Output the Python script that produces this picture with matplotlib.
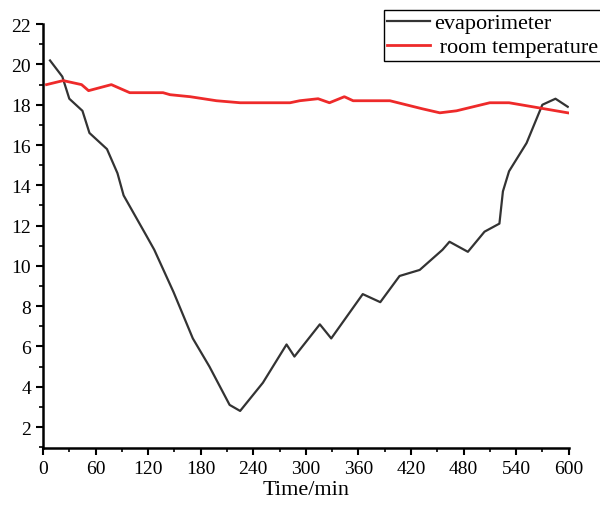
import numpy as np
import matplotlib.pyplot as plt
from matplotlib.ticker import MultipleLocator

plt.rcParams['font.family'] = ['Liberation Serif', 'DejaVu Serif']

# evaporimeter temperature readings
evap_t = [8, 22, 30, 45, 53, 73, 85, 92, 118, 127, 149, 171, 190, 213, 225,
          251, 278, 287, 316, 329, 365, 385, 407, 430, 456, 464, 485, 504,
          521, 525, 532, 552, 570, 585, 599]
evap_v = [20.2, 19.4, 18.3, 17.7, 16.6, 15.8, 14.6, 13.5, 11.5, 10.8, 8.7,
          6.4, 5.0, 3.1, 2.8, 4.2, 6.1, 5.5, 7.1, 6.4, 8.6, 8.2, 9.5, 9.8,
          10.8, 11.2, 10.7, 11.7, 12.1, 13.7, 14.7, 16.1, 18.0, 18.3, 17.9]

# room temperature readings
room_t = [4, 23, 44, 52, 78, 99, 137, 145, 168, 198, 225, 282, 293, 314, 327,
          344, 354, 396, 433, 453, 472, 510, 532, 559, 599]
room_v = [19.0, 19.2, 19.0, 18.7, 19.0, 18.6, 18.6, 18.5, 18.4, 18.2, 18.1,
          18.1, 18.2, 18.3, 18.1, 18.4, 18.2, 18.2, 17.8, 17.6, 17.7, 18.1,
          18.1, 17.9, 17.6]

fig = plt.figure(figsize=(6, 5.1), dpi=100)
ax = fig.add_axes([0.0717, 0.1196, 0.876, 0.831])

ax.plot(evap_t, evap_v, color='#333333', lw=1.6, label='evaporimeter')
ax.plot(room_t, room_v, color='#ee2a2a', lw=2.0, label=' room temperature')

ax.set_xlim(0, 600)
ax.set_ylim(0.96, 22)
ax.xaxis.set_major_locator(MultipleLocator(60))
ax.xaxis.set_minor_locator(MultipleLocator(30))
ax.yaxis.set_major_locator(MultipleLocator(2))
ax.yaxis.set_minor_locator(MultipleLocator(1))
ax.set_yticks(np.arange(2, 23, 2))

for s in ['top', 'right']:
    ax.spines[s].set_visible(False)
for s in ['left', 'bottom']:
    ax.spines[s].set_linewidth(1.8)

ax.tick_params(which='major', direction='out', length=5, width=1.5, labelsize=14)
ax.tick_params(which='minor', direction='out', length=3, width=1.2)
ax.set_xlabel('Time/min', fontsize=16, labelpad=2)

leg = fig.legend(loc='upper right', bbox_to_anchor=(1.01, 0.988), fontsize=16,
                 handlelength=1.9, fancybox=False, framealpha=1,
                 borderpad=0.15, labelspacing=0.15, handletextpad=0.2,
                 borderaxespad=0.2)
leg.get_frame().set_edgecolor('black')
leg.get_frame().set_linewidth(1.0)

fig.savefig('out.png', dpi=100)
